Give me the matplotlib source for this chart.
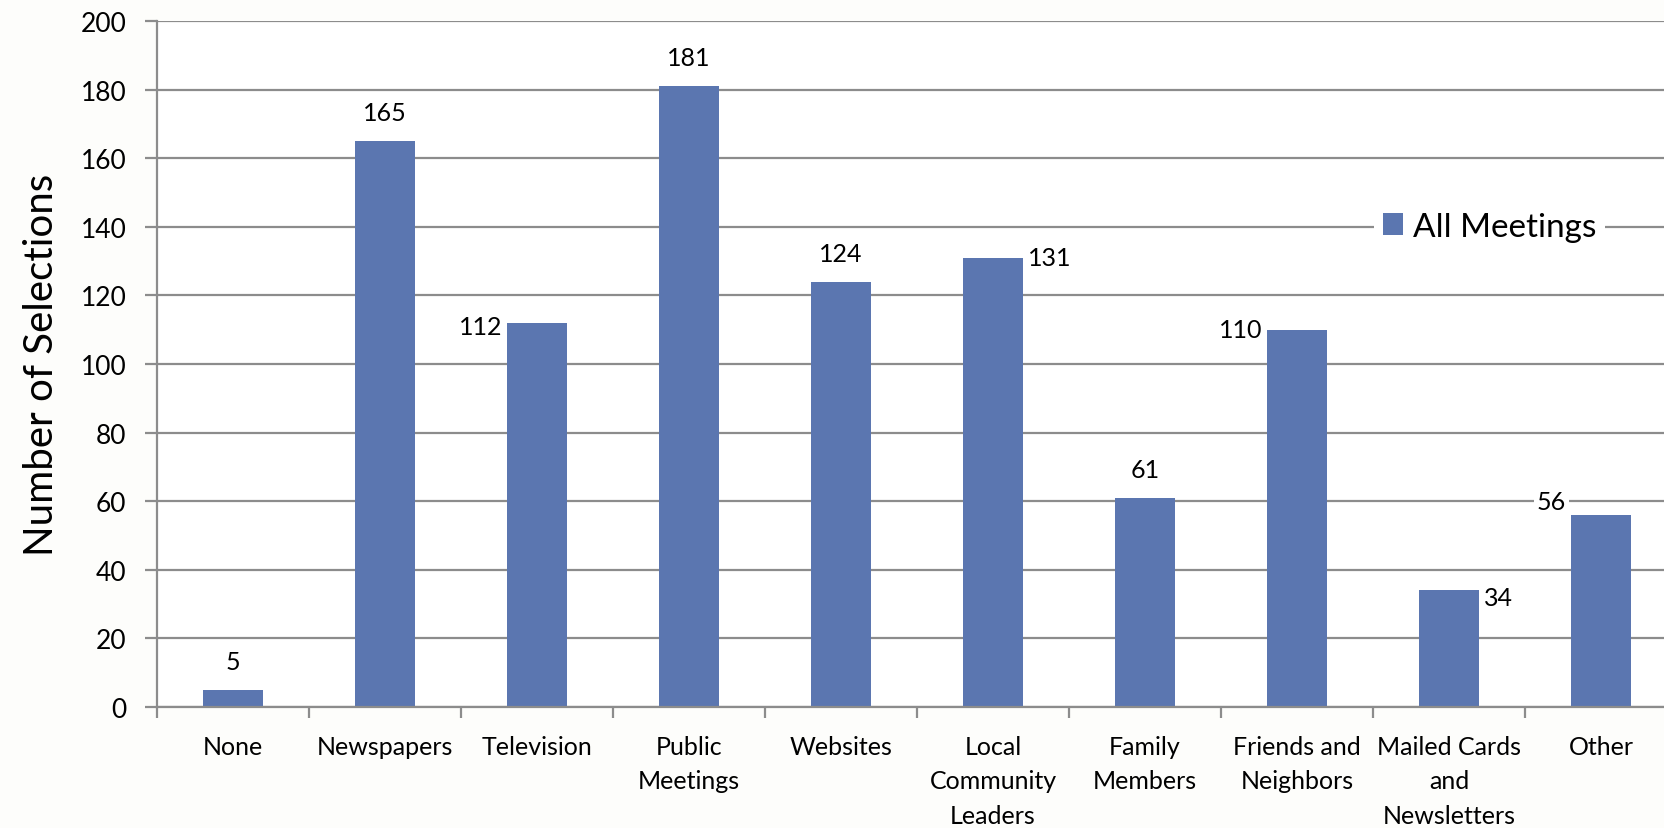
import numpy as np
import matplotlib.pyplot as plt

plt.rcParams['font.family'] = ['Lato', 'DejaVu Sans']

categories = ["None", "Newspapers", "Television", "Public\nMeetings", "Websites",
              "Local\nCommunity\nLeaders", "Family\nMembers", "Friends and\nNeighbors",
              "Mailed Cards\nand\nNewsletters", "Other"]
selections = [5, 165, 112, 181, 124, 131, 61, 110, 34, 56]
# where each value label sits relative to its bar, and a small vertical nudge
label_side = ["top", "top", "left", "top", "top", "right", "top", "left", "right", "left"]
label_nudge = [0, 0, -1, 0, 0, 0, 0, 0, -2, 4]

bar_color = "#5b76b0"
grid_color = "#8c8c8c"

fig = plt.figure(figsize=(16.65, 8.29), dpi=100, facecolor="#fdfdfb")
# axes runs a little past the right edge of the figure
ax = fig.add_axes([157 / 1665, 1 - 708 / 829, 1520 / 1665, (708 - 22) / 829])
ax.set_facecolor("white")

x = np.arange(len(categories))
bars = ax.bar(x, selections, width=0.4, color=bar_color, zorder=2, label="All Meetings")

ax.set_xlim(-0.5, len(categories) - 0.5)
ax.set_ylim(0, 200)
ax.set_yticks(np.arange(0, 201, 20))
ax.yaxis.grid(True, color=grid_color, linewidth=1.6, zorder=0)
ax.set_axisbelow(True)

ax.set_xticks(x)
ax.set_xticklabels(categories, fontsize=18, linespacing=1.6)
ax.set_xticks(np.arange(len(categories) + 1) - 0.5, minor=True)
ax.tick_params(axis="x", which="major", length=0, pad=20)
ax.tick_params(axis="x", which="minor", length=8, width=1.6, color=grid_color)
ax.tick_params(axis="y", length=9, width=1.6, color=grid_color, labelsize=19, pad=13)

for side in ["top", "right"]:
    ax.spines[side].set_visible(False)
for side in ["left", "bottom"]:
    ax.spines[side].set_color(grid_color)
    ax.spines[side].set_linewidth(1.6)

ax.set_ylabel("Number of Selections", fontsize=29, labelpad=15)

box = dict(facecolor="white", edgecolor="none", pad=2)
for xi, val, side, dy in zip(x, selections, label_side, label_nudge):
    if side == "top":
        ax.text(xi, val + 5, str(val), ha="center", va="bottom", fontsize=18, bbox=box, zorder=3)
    elif side == "left":
        ax.text(xi - 0.23, val + dy, str(val), ha="right", va="center", fontsize=18, bbox=box, zorder=3)
    else:
        ax.text(xi + 0.23, val + dy, str(val), ha="left", va="center", fontsize=18, bbox=box, zorder=3)

leg = ax.legend(loc="center left", bbox_to_anchor=(0.79, 0.7), frameon=True, fontsize=24,
                handlelength=0.6, handleheight=0.6, handletextpad=0.3, borderpad=0.25,
                fancybox=False)
leg.get_frame().set_edgecolor("none")
leg.get_frame().set_facecolor("white")
leg.get_frame().set_alpha(1)

fig.savefig("out.png", dpi=100, facecolor=fig.get_facecolor())
